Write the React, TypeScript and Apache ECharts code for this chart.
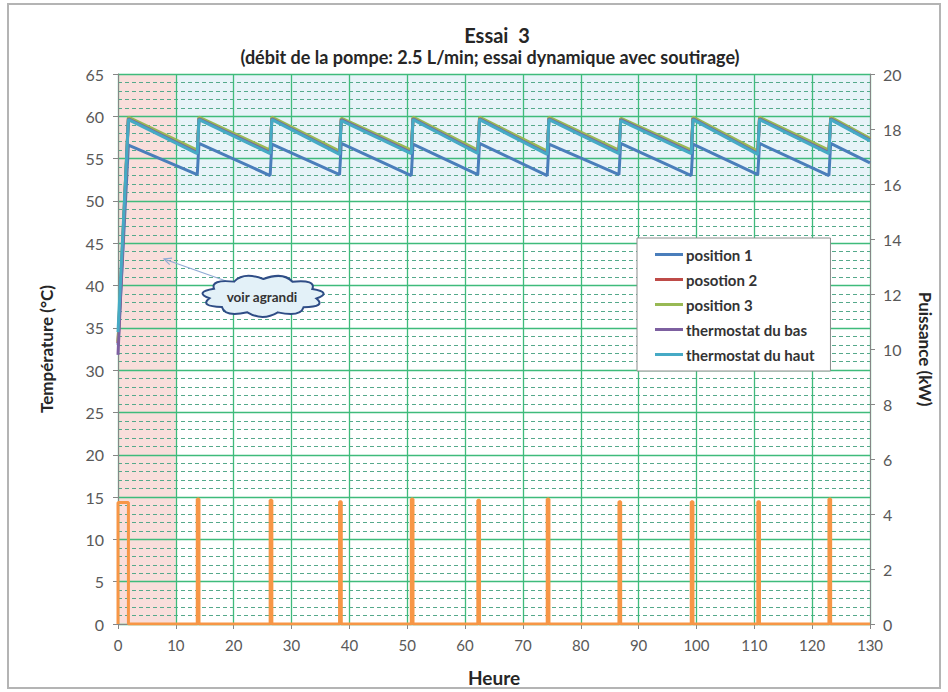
import React, { useEffect, useRef } from "react";
import * as echarts from "echarts";

// Series shown in the legend
const seriesNames = ["position 1", "posotion 2", "position 3", "thermostat du bas", "thermostat du haut"];
const seriesColors = ["#4a7ebb", "#be4b48", "#98b954", "#7d60a0", "#46aac5"];

// Heating cycles (hours): heater switches on at the start of each cycle and the tank peaks when it stops
const heaterOn = [0, 13.7, 26.3, 38.3, 50.7, 62.2, 74.2, 86.6, 99.1, 110.6, 122.9];
const heaterOff = [1.8, 14.0, 26.6, 38.6, 51.0, 62.5, 74.5, 86.9, 99.4, 110.9, 123.2];
const heaterPower = [4.42, 4.55, 4.5, 4.45, 4.55, 4.5, 4.55, 4.45, 4.45, 4.45, 4.55];
const endTime = 130;

// Temperatures (°C): start value, peak after each heating, low point just before next heating, final value
const startTemps = [33.0, 33.2, 33.4, 31.8, 34.5];
const endTemps = [54.5, 57.3, 57.4, 57.2, 57.1];

const pos1Peaks = [56.6, 56.8, 56.7, 56.8, 56.7, 56.8, 56.7, 56.8, 56.7, 56.8, 56.8];
const pos1Lows = [53.1, 53.0, 53.1, 53.0, 53.1, 53.0, 53.1, 53.0, 53.1, 53.0];
const pos2Peaks = [59.8, 59.8, 59.8, 59.7, 59.8, 59.8, 59.8, 59.7, 59.8, 59.8, 59.8];
const pos2Lows = [55.9, 55.9, 55.8, 55.9, 55.9, 55.8, 55.9, 55.9, 55.8, 55.9];
const pos3Peaks = [59.9, 59.9, 59.9, 59.8, 59.9, 59.9, 59.9, 59.8, 59.9, 59.9, 59.9];
const pos3Lows = [56.0, 56.0, 55.9, 56.0, 56.0, 55.9, 56.0, 56.0, 55.9, 56.0];
const basPeaks = [59.7, 59.7, 59.7, 59.6, 59.7, 59.7, 59.7, 59.6, 59.7, 59.7, 59.7];
const basLows = [55.7, 55.7, 55.6, 55.7, 55.7, 55.6, 55.7, 55.7, 55.6, 55.7];
const hautPeaks = [59.6, 59.6, 59.6, 59.5, 59.6, 59.6, 59.6, 59.5, 59.6, 59.6, 59.6];
const hautLows = [55.6, 55.6, 55.5, 55.6, 55.6, 55.5, 55.6, 55.6, 55.5, 55.6];

const peaksBySeries = [pos1Peaks, pos2Peaks, pos3Peaks, basPeaks, hautPeaks];
const lowsBySeries = [pos1Lows, pos2Lows, pos3Lows, basLows, hautLows];

// Axis ranges
const xMax = 130;
const tempMax = 65;
const powerMax = 20;
// Highlighted zones
const zoomZoneEnd = 10;
const steadyBandLow = 51;

const FONT = "Lato, 'Noto Sans', sans-serif";
const GRID_GREEN = "#3fbb7b";
const DASH_GREEN = "#55a98b";

function tempSeriesData(i: number): number[][] {
  const peaks = peaksBySeries[i];
  const lows = lowsBySeries[i];
  const pts: number[][] = [[0, startTemps[i]], [heaterOff[0], peaks[0]]];
  for (let k = 1; k < heaterOn.length; k++) {
    pts.push([heaterOn[k], lows[k - 1]]);
    pts.push([heaterOff[k], peaks[k]]);
  }
  pts.push([endTime, endTemps[i]]);
  return pts;
}

function heaterData(): number[][] {
  const pts: number[][] = [];
  for (let k = 0; k < heaterOn.length; k++) {
    pts.push([heaterOn[k], 0], [heaterOn[k], heaterPower[k]], [heaterOff[k], heaterPower[k]], [heaterOff[k], 0]);
  }
  pts.push([endTime, 0]);
  return pts;
}

// Scalloped cloud outline centred on (0, 0)
function cloudPath(rx: number, ry: number, n: number): string {
  let d = "";
  for (let k = 0; k <= n; k++) {
    const a = (Math.PI * 2 * k) / n + 0.15;
    const x = rx * Math.cos(a);
    const y = ry * Math.sin(a);
    if (k === 0) {
      d += `M${x.toFixed(2)} ${y.toFixed(2)}`;
    } else {
      const am = (Math.PI * 2 * (k - 0.5)) / n + 0.15;
      const cx = rx * 1.3 * Math.cos(am);
      const cy = ry * 1.5 * Math.sin(am);
      d += ` Q${cx.toFixed(2)} ${cy.toFixed(2)} ${x.toFixed(2)} ${y.toFixed(2)}`;
    }
  }
  return d + " Z";
}

echarts.graphic.registerShape("cloud", echarts.graphic.extendPath(cloudPath(54, 17, 11), {}));

export default function App() {
  const ref = useRef<HTMLDivElement>(null);

  useEffect(() => {
    if (!ref.current) return;
    const chart = echarts.init(ref.current, null, { renderer: "svg" });

    const tempSeries = seriesNames.map((name, i) => ({
      name,
      type: "line",
      data: tempSeriesData(i),
      showSymbol: false,
      symbol: "none",
      lineStyle: { width: 3, color: seriesColors[i] },
      itemStyle: { color: seriesColors[i] },
      z: 3 + i,
    }));

    chart.setOption({
      animation: false,
      backgroundColor: "#ffffff",
      textStyle: { fontFamily: FONT },
      grid: { left: 118, right: 78, top: 74, bottom: 64, containLabel: false },
      legend: {
        data: seriesNames,
        orient: "vertical",
        left: 637,
        top: 238,
        padding: [9, 16, 9, 18],
        itemGap: 10,
        itemWidth: 28,
        itemHeight: 3,
        icon: "rect",
        backgroundColor: "#ffffff",
        borderColor: "#8c8c8c",
        borderWidth: 1,
        textStyle: { fontFamily: FONT, fontSize: 15, fontWeight: "bold", color: "#333333", padding: [0, 0, 0, -2] },
      },
      xAxis: {
        type: "value",
        min: 0,
        max: xMax,
        interval: 10,
        name: "Heure",
        nameLocation: "middle",
        nameGap: 44,
        nameTextStyle: { fontFamily: FONT, fontSize: 19, fontWeight: "bold", color: "#262626" },
        axisLine: { show: true, lineStyle: { color: "#868686" } },
        axisTick: { show: true, length: 5, lineStyle: { color: "#868686" } },
        axisLabel: { fontFamily: FONT, fontSize: 15, color: "#595959", margin: 13 },
        splitLine: { show: true, lineStyle: { color: GRID_GREEN, width: 1.3 } },
      },
      yAxis: [
        {
          type: "value",
          min: 0,
          max: tempMax,
          interval: 5,
          name: "Température (°C)",
          nameLocation: "middle",
          nameGap: 63,
          nameTextStyle: { fontFamily: FONT, fontSize: 17, fontWeight: "bold", color: "#262626" },
          axisLine: { show: true, lineStyle: { color: "#868686" } },
          axisTick: { show: true, length: 5, lineStyle: { color: "#868686" } },
          axisLabel: { fontFamily: FONT, fontSize: 16, color: "#595959", margin: 14 },
          splitLine: { show: true, lineStyle: { color: GRID_GREEN, width: 1.3 } },
          minorTick: { show: false, splitNumber: 5 },
          minorSplitLine: { show: true, lineStyle: { color: DASH_GREEN, width: 1, type: [4, 3] } },
        },
        {
          type: "value",
          min: 0,
          max: powerMax,
          interval: 2,
          name: "Puissance (kW)",
          nameLocation: "middle",
          nameGap: 47,
          nameRotate: -90,
          nameTextStyle: { fontFamily: FONT, fontSize: 17, fontWeight: "bold", color: "#262626" },
          axisLine: { show: true, lineStyle: { color: "#868686" } },
          axisTick: { show: true, length: 5, lineStyle: { color: "#868686" } },
          axisLabel: { fontFamily: FONT, fontSize: 16, color: "#595959", margin: 13 },
          splitLine: { show: false },
        },
      ],
      series: [
        {
          name: "zones",
          type: "line",
          data: [],
          z: -1,
          silent: true,
          markArea: {
            silent: true,
            z: -1,
            data: [
              [
                { xAxis: 0, yAxis: 0, itemStyle: { color: "#f9dedb" } },
                { xAxis: zoomZoneEnd, yAxis: tempMax },
              ],
              [
                { xAxis: zoomZoneEnd, yAxis: steadyBandLow, itemStyle: { color: "#e7f3f8" } },
                { xAxis: xMax, yAxis: tempMax },
              ],
            ],
          },
        },
        {
          name: "Puissance",
          type: "line",
          yAxisIndex: 1,
          data: heaterData(),
          showSymbol: false,
          symbol: "none",
          lineStyle: { width: 3, color: "#f79646" },
          itemStyle: { color: "#f79646" },
          z: 2,
        },
        ...tempSeries,
      ],
      title: [
        {
          text: "Essai  3",
          left: 492,
          top: 20,
          textAlign: "center",
          textStyle: { fontFamily: FONT, fontSize: 20, fontWeight: "bold", color: "#262626" },
        },
        {
          text: "(débit de la pompe: 2.5 L/min; essai dynamique avec soutirage)",
          left: 485,
          top: 43,
          textAlign: "center",
          textStyle: { fontFamily: FONT, fontSize: 18, fontWeight: "bold", color: "#262626" },
        },
      ],
      graphic: [
        {
          type: "rect",
          shape: { x: 8, y: 4, width: 932, height: 684 },
          style: { fill: "none", stroke: "#b4b4b4", lineWidth: 2 },
          silent: true,
        },
        {
          type: "line",
          shape: { x1: 226, y1: 281, x2: 164, y2: 259 },
          style: { stroke: "#8eaad4", lineWidth: 1.2 },
          z: 20,
        },
        {
          type: "polyline",
          shape: { points: [[169.7, 264.6], [164, 259], [172, 258.2]] },
          style: { stroke: "#8eaad4", lineWidth: 1.2, fill: "none" },
          z: 20,
        },
        {
          type: "cloud",
          x: 263,
          y: 296,
          style: { fill: "#e3f1f8", stroke: "#2f4d86", lineWidth: 2 },
          z: 20,
        },
        {
          type: "text",
          x: 262,
          y: 297,
          style: {
            text: "voir agrandi",
            fontFamily: FONT,
            fontSize: 13.5,
            fontWeight: "bold",
            fill: "#333333",
            align: "center",
            verticalAlign: "middle",
          },
          z: 21,
        },
      ],
    });

    return () => chart.dispose();
  }, []);

  return (
    <div
      ref={ref}
      style={{ position: "fixed", left: 0, top: 0, width: 948, height: 692 }}
    />
  );
}
